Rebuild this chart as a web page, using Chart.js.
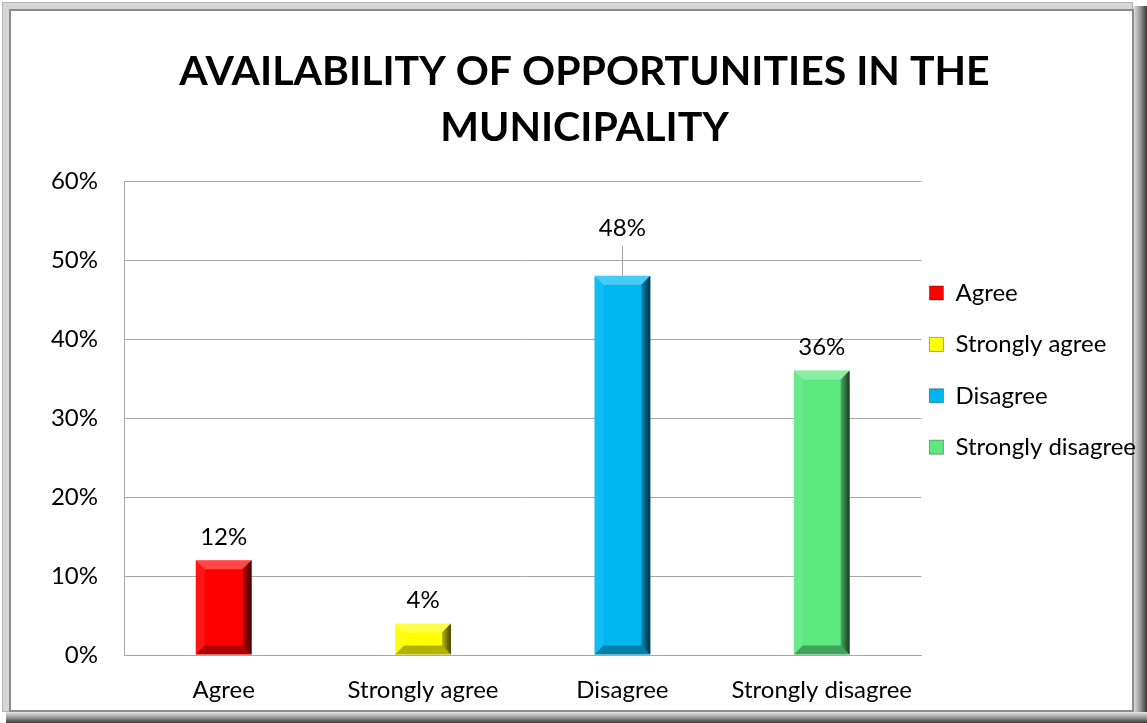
<!DOCTYPE html>
<html>
<head>
<meta charset="utf-8">
<title>Availability of opportunities in the municipality</title>
<script src="https://cdn.jsdelivr.net/npm/chart.js@4/dist/chart.umd.min.js"></script>
<style>
  html, body { margin: 0; padding: 0; background: #fff; }
  #wrap { position: relative; width: 1147px; height: 723px; }
</style>
</head>
<body>
<div id="wrap"><canvas id="myChart"></canvas></div>
<script>
'use strict';

var categories = ['Agree', 'Strongly agree', 'Disagree', 'Strongly disagree'];
var shares = [12, 4, 48, 36];
var barColors = ['#FF0000', '#FFFF00', '#00B6F0', '#5EE880'];
var yTicks = [0, 10, 20, 30, 40, 50, 60];

var FONT = 'Lato, Carlito, Calibri, "Open Sans", sans-serif';

// double grey frame with a drop shadow on the right and bottom
var framePlugin = {
    id: 'frame',
    beforeDraw: function (chart) {
        var c = chart.ctx, w = chart.width, h = chart.height;
        c.save();
        c.fillStyle = '#fff';
        c.fillRect(0, 0, w, h);

        var g = c.createLinearGradient(w - 14, 0, w, 0);
        g.addColorStop(0, '#e6e6e6');
        g.addColorStop(0.5, '#9a9a9a');
        g.addColorStop(1, '#3a3a3a');
        c.fillStyle = g;
        c.fillRect(w - 14, 6, 14, h - 6);
        g = c.createLinearGradient(0, h - 11, 0, h);
        g.addColorStop(0, '#e6e6e6');
        g.addColorStop(0.5, '#9a9a9a');
        g.addColorStop(1, '#3a3a3a');
        c.fillStyle = g;
        c.fillRect(6, h - 11, w - 6, 11);

        c.fillStyle = '#d6d6d6';
        c.fillRect(2, 2, w - 16, h - 13);
        c.strokeStyle = '#b4b4b4';
        c.lineWidth = 1;
        c.strokeRect(2.5, 2.5, w - 17, h - 14);
        c.strokeStyle = '#8c8c8c';
        c.lineWidth = 2;
        c.strokeRect(10, 10, w - 24, h - 22);
        c.fillStyle = '#fff';
        c.fillRect(11, 11, w - 26, h - 24);
        c.restore();
    }
};

// bevelled look on each bar: light top edge, dark right and bottom edges
var bevelPlugin = {
    id: 'bevel',
    afterDatasetsDraw: function (chart) {
        var c = chart.ctx;
        var b = 9;
        chart.getDatasetMeta(0).data.forEach(function (bar) {
            var l = bar.x - bar.width / 2, r = bar.x + bar.width / 2;
            var t = bar.y, bt = bar.base;
            var bb = Math.min(b, (bt - t) / 2);
            c.save();
            c.beginPath();
            c.moveTo(l, t); c.lineTo(r, t); c.lineTo(r - bb, t + bb); c.lineTo(l + bb, t + bb);
            c.closePath();
            c.fillStyle = 'rgba(255,255,255,0.28)';
            c.fill();

            c.beginPath();
            c.moveTo(l, t); c.lineTo(l + bb, t + bb); c.lineTo(l + bb, bt - bb); c.lineTo(l, bt);
            c.closePath();
            c.fillStyle = 'rgba(255,255,255,0.08)';
            c.fill();

            var g = c.createLinearGradient(r - bb - 2, 0, r, 0);
            g.addColorStop(0, 'rgba(0,0,0,0.15)');
            g.addColorStop(1, 'rgba(0,0,0,0.75)');
            c.beginPath();
            c.moveTo(r, t); c.lineTo(r, bt); c.lineTo(r - bb, bt - bb); c.lineTo(r - bb, t + bb);
            c.closePath();
            c.fillStyle = g;
            c.fill();

            c.beginPath();
            c.moveTo(l, bt); c.lineTo(r, bt); c.lineTo(r - bb, bt - bb); c.lineTo(l + bb, bt - bb);
            c.closePath();
            c.fillStyle = 'rgba(0,0,0,0.3)';
            c.fill();
            c.restore();
        });
    }
};

// value labels above the bars, with a leader line for labels moved further up
var valueLabelPlugin = {
    id: 'valueLabels',
    afterDatasetsDraw: function (chart, args, opts) {
        var c = chart.ctx;
        var ds = chart.data.datasets[0];
        c.save();
        c.font = opts.size + 'px ' + FONT;
        c.fillStyle = '#000';
        c.textAlign = 'center';
        c.textBaseline = 'middle';
        chart.getDatasetMeta(0).data.forEach(function (bar, i) {
            var extra = opts.moved[i] || 0;
            var y = bar.y - opts.lift - extra;
            if (extra) {
                c.strokeStyle = '#a6a6a6';
                c.lineWidth = 1;
                c.beginPath();
                c.moveTo(Math.round(bar.x) + 0.5, y + 18);
                c.lineTo(Math.round(bar.x) + 0.5, bar.y);
                c.stroke();
            }
            c.fillText(ds.data[i] + '%', bar.x, y);
        });
        c.restore();
    }
};

var ctx = document.getElementById('myChart').getContext('2d');
var chart = new Chart(ctx, {
    type: 'bar',
    data: {
        labels: categories,
        datasets: [{
            label: 'Share',
            data: shares,
            backgroundColor: barColors,
            borderWidth: 0,
            barPercentage: 0.35,
            categoryPercentage: 0.8
        }]
    },
    options: {
        responsive: true,
        maintainAspectRatio: false,
        animation: false,
        layout: { padding: { top: 10, right: 1, bottom: 10, left: 23 } },
        plugins: {
            title: {
                display: true,
                text: ['AVAILABILITY OF OPPORTUNITIES IN THE', 'MUNICIPALITY'],
                color: '#000',
                font: { family: FONT, size: 41, weight: 'bold', lineHeight: 1.366 },
                padding: { top: 34, bottom: 25 }
            },
            legend: {
                position: 'right',
                align: 'start',
                fullSize: false,
                title: { display: true, text: ' ', font: { size: 10, lineHeight: 1 }, padding: { top: 0, bottom: 82 } },
                labels: {
                    color: '#000',
                    font: { family: FONT, size: 24, lineHeight: 1.808 },
                    boxWidth: 14,
                    boxHeight: 14,
                    padding: 8,
                    generateLabels: function (chart) {
                        return categories.map(function (name, i) {
                            return {
                                text: [name],
                                fillStyle: barColors[i],
                                strokeStyle: 'rgba(0,0,0,0.35)',
                                fontColor: '#000',
                                lineWidth: 1,
                                index: i
                            };
                        });
                    }
                }
            },
            tooltip: { enabled: false },
            valueLabels: { size: 24, lift: 23, moved: { 2: 25 } }
        },
        scales: {
            x: {
                grid: { display: false, drawTicks: false },
                border: { display: true, color: '#a6a6a6' },
                ticks: { color: '#000', font: { family: FONT, size: 24 }, padding: 21 },
                afterFit: function (scale) { scale.height = 58; }
            },
            y: {
                min: 0,
                max: 60,
                afterBuildTicks: function (scale) {
                    scale.ticks = yTicks.map(function (v) { return { value: v }; });
                },
                grid: { color: '#a6a6a6', drawTicks: false },
                border: { display: true, color: '#a6a6a6' },
                ticks: {
                    color: '#000',
                    font: { family: FONT, size: 24 },
                    padding: 26,
                    callback: function (v) { return v + '%'; }
                },
                afterFit: function (scale) { scale.width = 101; }
            }
        }
    },
    plugins: [framePlugin, bevelPlugin, valueLabelPlugin]
});
</script>
</body>
</html>
